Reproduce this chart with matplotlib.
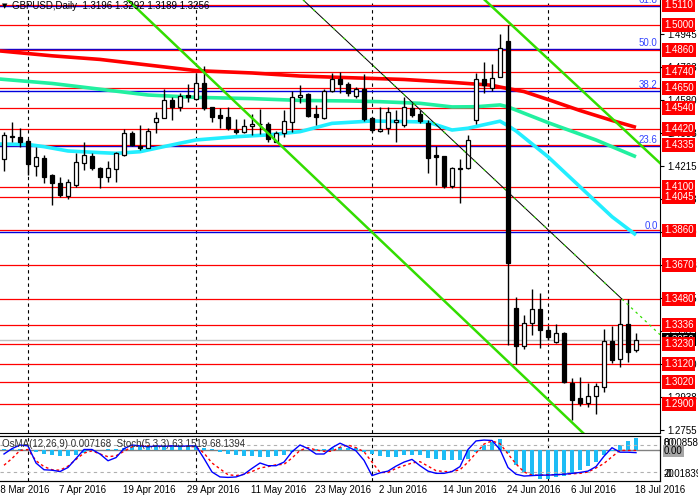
import matplotlib
matplotlib.use('Agg')
import matplotlib.pyplot as plt
import matplotlib.transforms as mtransforms

plt.rcParams['font.family'] = ['Liberation Sans', 'DejaVu Sans']

# GBPUSD daily, bar 0 = 29 Mar 2016 ... bar 79 = 18 Jul 2016
opens = [1.4254, 1.4375, 1.4376, 1.4357, 1.4219, 1.4260, 1.4167, 1.4121, 1.4052, 1.4112,
         1.4235, 1.4274, 1.4206, 1.4154, 1.4199, 1.4278, 1.4400, 1.4329, 1.4318, 1.4462,
         1.4481, 1.4582, 1.4545, 1.4610, 1.4586, 1.4678, 1.4542, 1.4499, 1.4487, 1.4416,
         1.4407, 1.4440, 1.4447, 1.4449, 1.4351, 1.4401, 1.4459, 1.4597, 1.4615, 1.4505,
         1.4481, 1.4634, 1.4697, 1.4669, 1.4606, 1.4642, 1.4481, 1.4412, 1.4426, 1.4462,
         1.4444, 1.4540, 1.4505, 1.4453, 1.4278, 1.4272, 1.4106, 1.4207, 1.4204, 1.4472,
         1.4697, 1.4647, 1.4708, 1.4909, 1.3429, 1.3222, 1.3346, 1.3423, 1.3309, 1.3244,
         1.3294, 1.3018, 1.2931, 1.2903, 1.2945, 1.2992, 1.3248, 1.3147, 1.3342, 1.3196]
highs = [1.4407, 1.4459, 1.4426, 1.4365, 1.4324, 1.4278, 1.4173, 1.4154, 1.4143, 1.4287,
         1.4348, 1.4287, 1.4213, 1.4245, 1.4296, 1.4420, 1.4411, 1.4444, 1.4426, 1.4515,
         1.4642, 1.4601, 1.4619, 1.4671, 1.4730, 1.4771, 1.4544, 1.4536, 1.4545, 1.4479,
         1.4479, 1.4506, 1.4531, 1.4461, 1.4411, 1.4527, 1.4632, 1.4665, 1.4620, 1.4555,
         1.4642, 1.4730, 1.4739, 1.4684, 1.4656, 1.4726, 1.4490, 1.4545, 1.4545, 1.4527,
         1.4597, 1.4564, 1.4527, 1.4472, 1.4328, 1.4272, 1.4210, 1.4254, 1.4386, 1.4732,
         1.4790, 1.4782, 1.4946, 1.4998, 1.3493, 1.3392, 1.3534, 1.3515, 1.3331, 1.3342,
         1.3296, 1.3043, 1.3050, 1.3015, 1.3014, 1.3314, 1.3331, 1.3479, 1.3479, 1.3292]
lows = [1.4191, 1.4351, 1.4324, 1.4167, 1.4163, 1.4121, 1.4001, 1.4044, 1.4034, 1.4099,
        1.4195, 1.4195, 1.4093, 1.4130, 1.4130, 1.4272, 1.4330, 1.4305, 1.4315, 1.4402,
        1.4480, 1.4472, 1.4523, 1.4573, 1.4582, 1.4527, 1.4462, 1.4426, 1.4416, 1.4394,
        1.4401, 1.4389, 1.4394, 1.4350, 1.4350, 1.4379, 1.4407, 1.4564, 1.4487, 1.4444,
        1.4475, 1.4628, 1.4619, 1.4604, 1.4592, 1.4468, 1.4407, 1.4407, 1.4394, 1.4351,
        1.4434, 1.4490, 1.4453, 1.4180, 1.4112, 1.4093, 1.4093, 1.4010, 1.4198, 1.4449,
        1.4621, 1.4632, 1.4708, 1.3226, 1.3121, 1.3202, 1.3281, 1.3207, 1.3253, 1.3238,
        1.3017, 1.2810, 1.2888, 1.2881, 1.2844, 1.2967, 1.3126, 1.3102, 1.3130, 1.3189]
closes = [1.4389, 1.4384, 1.4351, 1.4226, 1.4265, 1.4158, 1.4121, 1.4056, 1.4128, 1.4239,
          1.4278, 1.4204, 1.4158, 1.4204, 1.4287, 1.4398, 1.4333, 1.4315, 1.4411, 1.4481,
          1.4582, 1.4545, 1.4606, 1.4601, 1.4675, 1.4536, 1.4490, 1.4484, 1.4429, 1.4407,
          1.4441, 1.4448, 1.4449, 1.4366, 1.4402, 1.4466, 1.4597, 1.4612, 1.4494, 1.4487,
          1.4634, 1.4697, 1.4669, 1.4619, 1.4642, 1.4475, 1.4416, 1.4420, 1.4514, 1.4472,
          1.4545, 1.4499, 1.4468, 1.4260, 1.4267, 1.4106, 1.4204, 1.4199, 1.4361, 1.4697,
          1.4668, 1.4706, 1.4872, 1.3678, 1.3222, 1.3346, 1.3423, 1.3309, 1.3272, 1.3290,
          1.3019, 1.2921, 1.2906, 1.2942, 1.2999, 1.3246, 1.3143, 1.3342, 1.3185, 1.3256]

# moving averages, read at some bars
ma_slow_bars = [-1, 6, 12, 18, 24, 31, 37, 43, 50, 56, 61, 62, 65, 68, 72, 76, 79]
ma_slow = [1.4856, 1.4827, 1.4807, 1.4776, 1.4745, 1.4732, 1.4715, 1.4706, 1.4696,
           1.4680, 1.4664, 1.4654, 1.4629, 1.4585, 1.4524, 1.4469, 1.4431]
ma_mid_bars = [-1, 6, 12, 18, 24, 31, 37, 43, 47, 52, 56, 59, 62, 63, 68, 74, 79]
ma_mid = [1.4700, 1.4674, 1.4642, 1.4610, 1.4597, 1.4590, 1.4580, 1.4577, 1.4573,
          1.4564, 1.4544, 1.4545, 1.4555, 1.4544, 1.4457, 1.4361, 1.4268]
ma_fast_bars = [-1, 3, 5, 8, 12, 14, 17, 19, 22, 24, 29, 33, 37, 41, 46, 51, 53, 56,
                58, 62, 63, 64, 68, 72, 76, 79]
ma_fast = [1.4339, 1.4336, 1.4324, 1.4300, 1.4291, 1.4287, 1.4296, 1.4315, 1.4343,
           1.4361, 1.4379, 1.4389, 1.4407, 1.4453, 1.4466, 1.4462, 1.4460, 1.4416,
           1.4426, 1.4465, 1.4440, 1.4411, 1.4268, 1.4102, 1.3936, 1.3835]

# trend lines (bar, price)
channel_low = [(15.5, 1.5136), (72.4, 1.2738)]
channel_high = [(60.1, 1.5136), (82.0, 1.4233)]
thin_trend = [(37.4, 1.5136), (77.25, 1.3480)]
thin_trend_ext = [(77.25, 1.3480), (82.0, 1.3283)]

levels = [1.5110, 1.5000, 1.4860, 1.4740, 1.4650, 1.4540, 1.4420, 1.4335, 1.4100,
          1.4045, 1.3860, 1.3670, 1.3480, 1.3336, 1.3230, 1.3120, 1.3020, 1.2900]
fibo_levels = [1.5104, 1.4866, 1.4631, 1.4329, 1.3854]
fibo_names = ['61.8', '50.0', '38.2', '23.6', '0.0']
last_price = 1.3256

price_ticks = [1.4945, 1.4763, 1.4580, 1.4398, 1.4215, 1.4033, 1.3850, 1.3668,
               1.3485, 1.3303, 1.3120, 1.2938, 1.2755]
price_tick_labels = ['1.4945', '1.4763', '1.4580', '1.4398', '1.4215', '1.4033', '1.3850',
                     '1.3668', '1.3485', '1.3303', '1.3120', '1.2938', '1.2755']

month_bars = [3, 24, 46, 68]
date_bars = [-1, 7, 15, 23, 31, 39, 47, 55, 63, 71, 79]
date_labels = ['28 Mar 2016', '7 Apr 2016', '19 Apr 2016', '29 Apr 2016', '11 May 2016',
               '23 May 2016', '2 Jun 2016', '14 Jun 2016', '24 Jun 2016', '6 Jul 2016',
               '18 Jul 2016']

osma = [0.0008, 0.0010, 0.0008, 0.0003, -0.0008, -0.0020, -0.0030, -0.0034, -0.0034, -0.0026,
        -0.0014, -0.0006, 0.0002, 0.0006, 0.0010, 0.0016, 0.0022, 0.0025, 0.0028, 0.0030,
        0.0031, 0.0030, 0.0029, 0.0028, 0.0025, 0.0015, 0.0005, -0.0008, -0.0020, -0.0026,
        -0.0034, -0.0034, -0.0040, -0.0040, -0.0036, -0.0026, -0.0010, 0.0000, 0.0004, 0.0006,
        0.0010, 0.0014, 0.0020, 0.0014, 0.0012, -0.0010, -0.0020, -0.0036, -0.0040, -0.0040,
        -0.0030, -0.0030, -0.0030, -0.0044, -0.0050, -0.0056, -0.0060, -0.0060, -0.0050, -0.0010,
        0.0030, 0.0050, 0.0065, -0.0015, -0.0089, -0.0129, -0.0149, -0.0169, -0.0169, -0.0159,
        -0.0153, -0.0139, -0.0119, -0.0093, -0.0069, -0.0030, -0.0005, 0.0034, 0.0054, 0.0072]
stoch_k = [60, 72, 80, 78, 40, 25, 24, 21, 30, 50, 70, 70, 60, 45, 52, 72, 80, 78, 76, 78,
           77, 78, 77, 78, 78, 50, 20, 9, 8, 9, 15, 28, 40, 34, 34, 42, 65, 80, 72, 60,
           60, 74, 84, 76, 67, 46, 12, 18, 22, 33, 42, 48, 34, 22, 17, 17, 21, 32, 70, 89,
           91, 90, 70, 30, 15, 11, 12, 13, 13, 14, 15, 17, 19, 22, 32, 55, 74, 64, 64, 63]
stoch_d = [35, 50, 68, 70, 45, 32, 25, 24, 33, 48, 62, 67, 60, 54, 56, 66, 76, 79, 78, 77,
           77, 78, 77, 77, 76, 62, 40, 27, 14, 12, 15, 21, 29, 32, 36, 37, 51, 68, 74, 69,
           66, 66, 75, 80, 74, 65, 42, 19, 19, 28, 34, 40, 43, 33, 23, 21, 21, 25, 42, 62,
           82, 89, 83, 60, 38, 20, 13, 13, 14, 14, 15, 16, 17, 20, 29, 39, 54, 68, 68, 68]

fig = plt.figure(figsize=(6.98, 5.01), dpi=100)
W, H = 698.0, 501.0
ax = fig.add_axes([0, (H - 433) / H, 660 / W, 433 / H])
ax.set_xlim(-0.5, 82)
ax.set_ylim(1.27385, 1.5136)

RED = '#ff0000'
BLUE = '#0000dd'

for m in month_bars:
    ax.axvline(m, color='black', lw=0.8, ls=(0, (3, 3)), zorder=1)

ax.axhline(last_price, color='#c0c0c0', lw=1, zorder=1)
for lv in fibo_levels:
    ax.axhline(lv, color=BLUE, lw=1, zorder=2)
for lv in levels:
    ax.axhline(lv, color=RED, lw=0.9, zorder=2)

# candles
bars = list(range(len(opens)))
ax.vlines(bars, lows, highs, color='black', lw=1, zorder=4)
for i in bars:
    o, c = opens[i], closes[i]
    fc = 'white' if c >= o else 'black'
    ax.bar(i, abs(c - o), bottom=min(o, c), width=0.6, color=fc,
           edgecolor='black', linewidth=0.9, zorder=5)

ax.plot(ma_slow_bars, ma_slow, color=RED, lw=2.6, zorder=3, solid_capstyle='butt')
ax.plot(ma_mid_bars, ma_mid, color='#22f0a0', lw=2.6, zorder=3, solid_capstyle='butt')
ax.plot(ma_fast_bars, ma_fast, color='#22eeff', lw=2.6, zorder=3, solid_capstyle='butt')

for line in (channel_low, channel_high):
    xs, ys = zip(*line)
    ax.plot(xs, ys, color='#33dd00', lw=1.8, zorder=6)
xs, ys = zip(*thin_trend)
ax.plot(xs, ys, color='black', lw=0.7, zorder=6)
ax.plot(xs, ys, color='#33dd00', lw=0.9, ls=(0, (2, 9)), zorder=6)
xs, ys = zip(*thin_trend_ext)
ax.plot(xs, ys, color='#33dd00', lw=0.9, ls=(0, (2, 3)), zorder=6)

for lv, name in zip(fibo_levels, fibo_names):
    ax.text(81.7, lv + 0.0004, name, color='#3344ff', fontsize=7, ha='right',
            va='bottom', zorder=7)

ax.text(0.003, 0.985, '\u25bc', transform=ax.transAxes, fontsize=5, va='center',
        family='DejaVu Sans')
ax.text(0.018, 0.985, 'GBPUSD,Daily  1.3196 1.3292 1.3189 1.3256',
        transform=ax.transAxes, fontsize=7, va='center', zorder=8)

# right price axis
for s in ('left', 'top'):
    ax.spines[s].set_visible(False)
ax.spines['right'].set_color('black')
ax.spines['bottom'].set_color('black')
ax.set_xticks([])
ax.yaxis.tick_right()
ax.set_yticks(price_ticks)
ax.set_yticklabels(price_tick_labels, fontsize=7)
ax.tick_params(axis='y', length=3, pad=2, color='black')

tr = mtransforms.blended_transform_factory(ax.transAxes, ax.transData)
ax.text(1.006, last_price, '%.4f' % last_price, transform=tr, fontsize=7, color='white',
        va='center', ha='left', clip_on=False, zorder=9,
        bbox=dict(boxstyle='square,pad=0.2', fc='black', ec='none'))
for lv in levels:
    ax.text(1.006, lv, '%.4f' % lv, transform=tr, fontsize=7, color='white',
            va='center', ha='left', clip_on=False, zorder=10,
            bbox=dict(boxstyle='square,pad=0.2', fc=RED, ec='none'))

# indicator window: OsMA histogram + Stochastic
axo = fig.add_axes([0, (H - 481) / H, 660 / W, 45 / H])
axo.set_xlim(-0.5, 82)
axo.set_ylim(-0.01839, 0.00858)
axo.bar(bars, osma, width=0.4, color='#1ebcf5', zorder=2)
axo.axhline(0, color='#808080', lw=1, zorder=1)
for m in month_bars:
    axo.axvline(m, color='black', lw=0.8, ls=(0, (3, 3)), zorder=1)
axo.set_xticks([])
axo.set_yticks([])
for s in ('left',):
    axo.spines[s].set_visible(False)

axs = axo.twinx()
axs.set_xlim(-0.5, 82)
axs.set_ylim(0, 100)
axs.axhline(80, color='#b0b0b0', lw=0.8, ls=(0, (3, 3)))
axs.axhline(20, color='#b0b0b0', lw=0.8, ls=(0, (3, 3)))
axs.plot(bars, stoch_d, color=RED, lw=1, ls=(0, (2, 2)))
axs.plot(bars, stoch_k, color='#0000ff', lw=1)
axs.set_yticks([])
axs.spines['left'].set_visible(False)

axs.text(0.003, 0.82, 'OsMA(12,26,9) 0.007168  Stoch(5,3,3) 63.1519 68.1394',
         transform=axs.transAxes, fontsize=7, color='#303030', va='center')
axs.text(1.005, 0.84, '0.00858', transform=axs.transAxes, fontsize=7, va='center',
         clip_on=False)
axs.text(1.005, 0.84, '80', transform=axs.transAxes, fontsize=7, va='center',
         clip_on=False)
axs.text(1.006, 0.66, '0.00', transform=axs.transAxes, fontsize=7, va='center',
         clip_on=False, bbox=dict(boxstyle='square,pad=0.1', fc='#909090', ec='none', alpha=0.8))
axs.text(1.005, 0.15, '-0.01839', transform=axs.transAxes, fontsize=7, va='center',
         clip_on=False)
axs.text(1.005, 0.15, '20', transform=axs.transAxes, fontsize=7, va='center',
         clip_on=False)

trd = mtransforms.blended_transform_factory(axo.transData, axo.transAxes)
for b, lab in zip(date_bars, date_labels):
    axo.text(b - 0.15, -0.2, lab, transform=trd, fontsize=7, ha='left', va='center',
             clip_on=False)

fig.savefig('out.png', dpi=100)
